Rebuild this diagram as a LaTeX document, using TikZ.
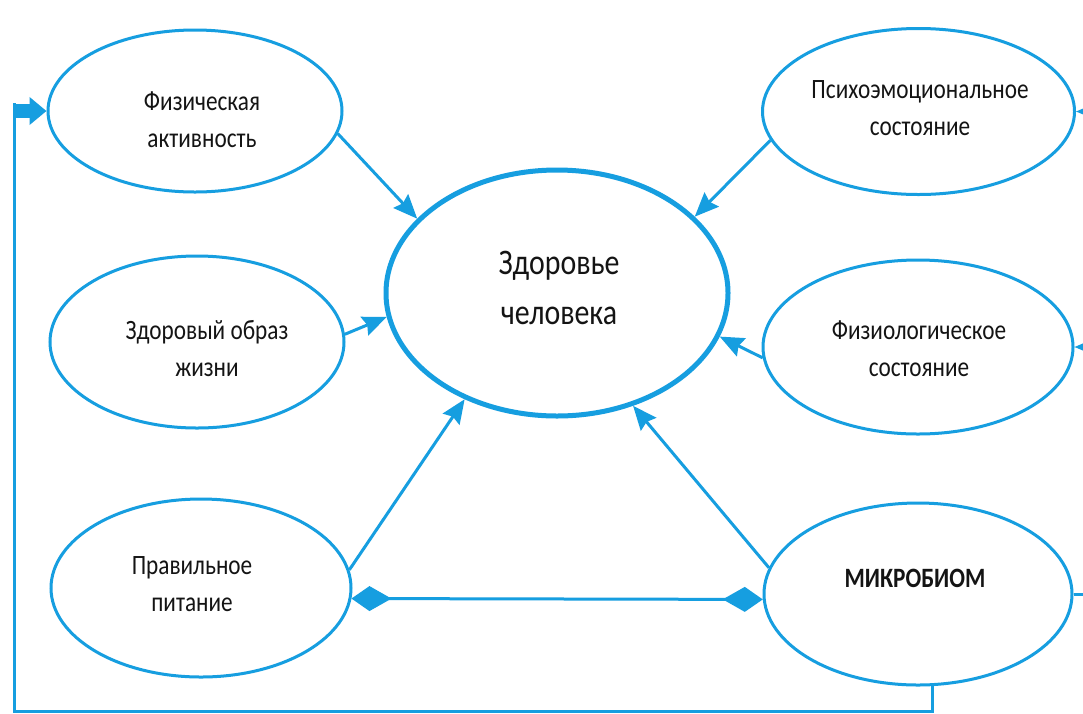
\documentclass[tikz,border=0pt]{standalone}
\usepackage{fontspec}
\setmainfont{Carlito}[FakeStretch=0.83]
\usetikzlibrary{arrows.meta,shapes.geometric}
\definecolor{lineblue}{RGB}{22,158,224}
\definecolor{ink}{RGB}{20,20,20}
\begin{document}
\begin{tikzpicture}[x=1pt,y=-1pt,
  bubble/.style={ellipse,draw=lineblue,line width=3pt,inner sep=0pt,fill=white},
  lbl/.style={text=ink,align=center,inner sep=0pt,font=\fontsize{28}{37}\selectfont},
  conn/.style={draw=lineblue,line width=3pt},
  arr/.style={-{Stealth[length=24pt,width=20pt,inset=3pt]}},
  darr/.style={{Kite[length=40pt,width=25pt,inset=22pt]}-{Kite[length=40pt,width=25pt,inset=22pt]}},
  stub/.style={draw=lineblue,line width=14pt,-{Triangle[length=17pt,width=27pt]}}
]
\clip (0,0) rectangle (1083,713);
\fill[white] (0,0) rectangle (1083,713);

% ellipses
\node[bubble,minimum width=294pt,minimum height=162pt] (fiz) at (195,111) {};
\node[bubble,minimum width=294pt,minimum height=172pt] (zoz) at (197,342) {};
\node[bubble,minimum width=300pt,minimum height=178pt] (prav) at (201,588) {};
\node[bubble,minimum width=312pt,minimum height=166pt] (psy) at (918.5,111.5) {};
\node[bubble,minimum width=310pt,minimum height=174pt] (fzl) at (918,347) {};
\node[bubble,minimum width=308pt,minimum height=182pt] (mik) at (918,594) {};
\node[bubble,line width=5pt,minimum width=342pt,minimum height=246pt] (cen) at (557,293) {};

% texts
\node[lbl] (fizt) at (202,120) {Физическая\\активность};
\node[lbl] (zozt) at (207,349) {Здоровый образ\\жизни};
\node[lbl] (pravt) at (192,584) {Правильное\\питание};
\node[lbl] (psyt) at (920,108) {Психоэмоциональное\\состояние};
\node[lbl] (fzlt) at (919,349) {Физиологическое\\состояние};
\node[lbl,font=\fontsize{28}{37}\selectfont\bfseries] (mikt) at (915,578) {МИКРОБИОМ};
\node[lbl,font=\fontsize{36}{50}\selectfont] (cent) at (559,288) {Здоровье\\человека};

% coordinates for free ends
\coordinate (bl) at (14,711);
\coordinate (tl) at (14,103);
\coordinate (r1) at (1100,111.5);
\coordinate (r2) at (1100,347);
\coordinate (r3) at (1100,594);

% connectors to the centre
\draw[conn,arr] (fiz.-9) -- (cen.152.5);
\draw[conn,arr] (psy.191) -- (cen.29.4);
\draw[conn,arr] (zoz.3) -- (cen.188.3);
\draw[conn,arr] (fzl.184) -- (cen.-15.3);
\draw[conn,arr] (prav.7) -- (cen.229);
\draw[conn,arr] (mik.170) -- (cen.-56.7);

% double arrow
\draw[conn,darr] (prav.-4.5) -- (mik.182);

% feedback loop
\draw[conn] (mik.-81) |- (bl) -- (tl);
\draw[stub] (tl |- fiz.west) -- (fiz.west);

% right side connectors
\draw[conn,arr] (r1) -- (psy.east);
\draw[conn,arr] (r2) -- (fzl.east);
\draw[conn] (mik.east) -- (r3);
\end{tikzpicture}
\end{document}
